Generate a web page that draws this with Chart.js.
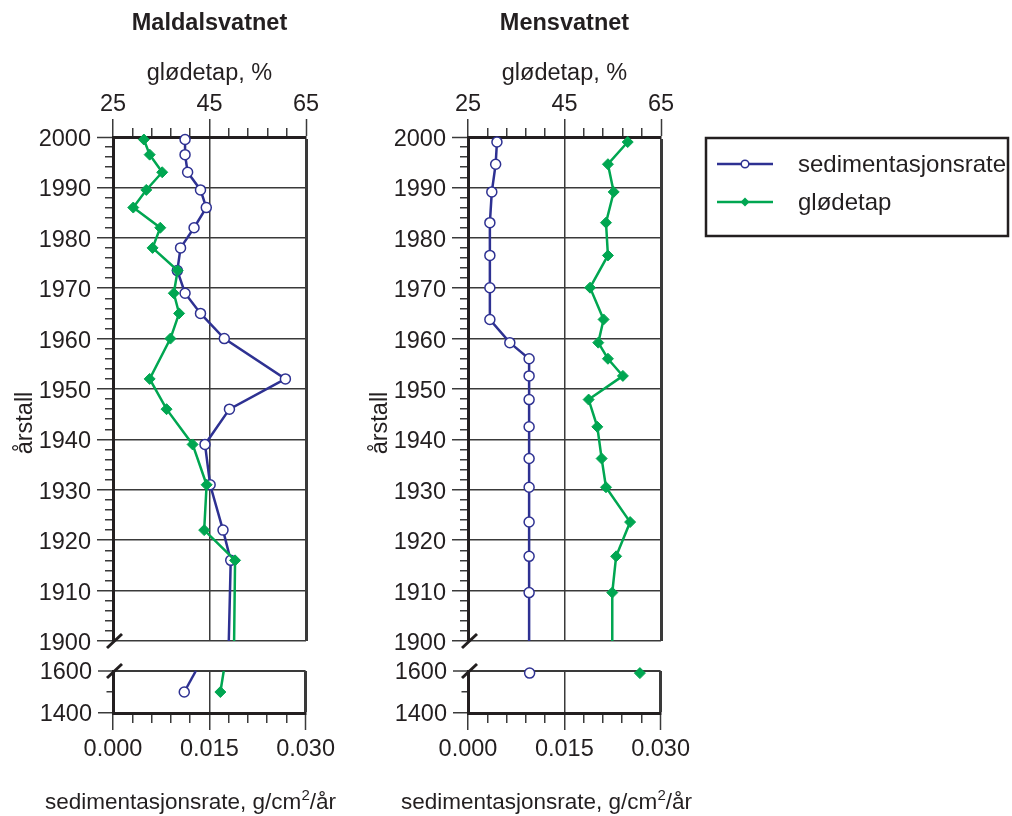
<!DOCTYPE html>
<html>
<head>
<meta charset="utf-8">
<script src="https://cdn.jsdelivr.net/npm/chart.js@4.4.1/dist/chart.umd.min.js"></script>
<style>
  html, body { margin: 0; padding: 0; background: #fff; }
  body { width: 1012px; height: 816px; position: relative; overflow: hidden;
         font-family: "Liberation Sans", Arial, sans-serif; color: #231f20; }
  canvas { position: absolute; }
  .ylab { position: absolute; width: 100px; height: 28px; line-height: 28px; text-align: center;
          font-size: 23.5px; transform: rotate(-90deg); white-space: nowrap; }
  .xlab { position: absolute; font-size: 22.5px; line-height: 26px; white-space: nowrap; }
  .xlab span { font-size: 15px; position: relative; top: -9px; }
</style>
</head>
<body>
<canvas id="mUp" width="340" height="667" style="left:0;top:0"></canvas>
<canvas id="mLo" width="340" height="166" style="left:0;top:650px"></canvas>
<canvas id="nUp" width="657" height="667" style="left:355px;top:0"></canvas>
<canvas id="nLo" width="340" height="166" style="left:355px;top:650px"></canvas>
<div class="ylab" style="left:-26px;top:409px">årstall</div>
<div class="ylab" style="left:329px;top:409px">årstall</div>
<div class="xlab" style="left:45px;top:789px">sedimentasjonsrate, g/cm<span>2</span>/år</div>
<div class="xlab" style="left:401px;top:789px">sedimentasjonsrate, g/cm<span>2</span>/år</div>
<script>
// Sediment core profiles for two lakes. Each lake is two stacked charts:
// 1900–2000 on top, and a short 1400–1600 strip below the axis break.

// ---- data ----
const MALDAL_YEARS = [1999.5, 1996.5, 1993, 1989.5, 1986, 1982, 1978, 1973.5, 1969, 1965, 1960, 1952, 1946, 1939, 1931, 1922, 1916];
const MALDAL_SED = [0.0112, 0.0112, 0.0116, 0.0136, 0.0145, 0.0126, 0.0105, 0.0100, 0.0112, 0.0136, 0.0173, 0.0268, 0.0181, 0.0143, 0.0151, 0.0171, 0.0183]; // g/cm²/år
const MALDAL_GLOD = [31.4, 32.6, 35.2, 31.9, 29.2, 34.8, 33.2, 38.4, 37.6, 38.7, 36.9, 32.6, 36.1, 41.5, 44.4, 43.9, 50.3]; // %
// where the lines leave the upper panel (1900) and come back in the lower one (1600)
const MALDAL_SED_1900 = 0.0180, MALDAL_GLOD_1900 = 50.1;
const MALDAL_SED_1600 = 0.0129, MALDAL_GLOD_1600 = 48.0;
const MALDAL_OLD_YEAR = 1500, MALDAL_OLD_SED = 0.0111, MALDAL_OLD_GLOD = 47.3;

const MENS_YEARS = [1999, 1994.6, 1989.1, 1983, 1976.5, 1970.1, 1963.8, 1959.2, 1956, 1952.6, 1947.9, 1942.5, 1936.2, 1930.5, 1923.6, 1916.8, 1909.6];
const MENS_SED = [0.0045, 0.0043, 0.0037, 0.0034, 0.0034, 0.0034, 0.0034, 0.0065, 0.0095, 0.0095, 0.0095, 0.0095, 0.0095, 0.0095, 0.0095, 0.0095, 0.0095];
const MENS_GLOD = [58.1, 54.0, 55.2, 53.6, 54.0, 50.3, 53.1, 52.0, 54.0, 57.1, 50.0, 51.8, 52.7, 53.6, 58.6, 55.7, 54.9];
const MENS_SED_1900 = 0.0095, MENS_GLOD_1900 = 54.9;
const MENS_OLD_YEAR = 1590, MENS_OLD_SED = 0.0096, MENS_OLD_GLOD = 60.7;

const GLOD_TICKS = [25, 45, 65];
const SED_TICKS = [0, 0.015, 0.03];

// ---- style ----
const INK = "#231f20";
const GRID = "#3a3a3a";
const BLUE = "#2e3192";
const GREEN = "#00a651";
const NONE = "rgba(0,0,0,0)";

Chart.defaults.font.family = '"Liberation Sans", Arial, sans-serif';
Chart.defaults.font.size = 23.5;
Chart.defaults.font.lineHeight = 1.2;
Chart.defaults.color = INK;

const near = (a, b) => Math.abs(a - b) < 1e-9;
const isGlodMajor = (v) => GLOD_TICKS.some((t) => near(t, v));
const isSedMajor = (v) => SED_TICKS.some((t) => near(t, v));
const tickVal = (c) => (c.tick ? c.tick.value : NaN);

// diagonal mark on the left axis where the year axis is broken
const breakMark = {
  id: "breakMark",
  afterDraw(chart, args, opts) {
    const { ctx, chartArea, scales } = chart;
    const x = chartArea.left + 1.5;
    const y = scales.y.getPixelForValue(opts.at);
    ctx.save();
    ctx.strokeStyle = INK;
    ctx.lineWidth = 3;
    ctx.beginPath();
    ctx.moveTo(x - 7.5, y + 7);
    ctx.lineTo(x + 7.5, y - 7);
    ctx.stroke();
    ctx.restore();
  },
};

// framed legend right of the Mensvatnet panel, line + marker per series
const boxLegend = {
  id: "boxLegend",
  afterDraw(chart) {
    const { ctx, chartArea } = chart;
    const left = chartArea.right + 45, top = chartArea.top + 1;
    ctx.save();
    ctx.lineWidth = 2.5;
    ctx.strokeStyle = INK;
    ctx.strokeRect(left, top, 302, 98);
    chart.data.datasets.forEach((ds, i) => {
      const y = top + 26 + i * 38;
      const mx = left + 39;
      ctx.strokeStyle = ds.borderColor;
      ctx.lineWidth = 2.5;
      ctx.beginPath();
      ctx.moveTo(left + 11, y);
      ctx.lineTo(left + 67, y);
      ctx.stroke();
      ctx.lineWidth = 1.5;
      if (ds.pointStyle === "circle") {
        ctx.fillStyle = "#fff";
        ctx.beginPath();
        ctx.arc(mx, y, 3.8, 0, Math.PI * 2);
        ctx.fill();
        ctx.stroke();
      } else {
        ctx.fillStyle = ds.borderColor;
        ctx.beginPath();
        ctx.moveTo(mx, y - 4.5);
        ctx.lineTo(mx + 4.5, y);
        ctx.lineTo(mx, y + 4.5);
        ctx.lineTo(mx - 4.5, y);
        ctx.closePath();
        ctx.fill();
      }
      ctx.fillStyle = INK;
      ctx.font = '24px "Liberation Sans", Arial, sans-serif';
      ctx.textBaseline = "middle";
      ctx.fillText(ds.label, left + 92, y + 1);
    });
    ctx.restore();
  },
};

function series(label, axis, points, hidden) {
  // hidden[i] true = point only carries the line to the break, no marker
  const blue = axis === "xS";
  return {
    label,
    data: points,
    xAxisID: axis,
    yAxisID: "y",
    borderColor: blue ? BLUE : GREEN,
    borderWidth: 2.5,
    pointStyle: blue ? "circle" : "rectRot",
    pointRadius: hidden.map((h) => (h ? 0 : blue ? 5 : 5.5)),
    pointBackgroundColor: blue ? "#fff" : GREEN,
    pointBorderColor: blue ? BLUE : GREEN,
    pointBorderWidth: blue ? 1.5 : 1,
    order: blue ? 2 : 1,
    clip: false,
    tension: 0,
  };
}

function upperData(years, sed, glod, sed1900, glod1900) {
  const sedPts = years.map((y, i) => ({ x: sed[i], y })).concat([{ x: sed1900, y: 1900 }]);
  const glodPts = years.map((y, i) => ({ x: glod[i], y })).concat([{ x: glod1900, y: 1900 }]);
  const hidden = years.map(() => false).concat([true]);
  return [
    series("sedimentasjonsrate", "xS", sedPts, hidden),
    series("glødetap", "xG", glodPts, hidden),
  ];
}

function lowerData(year, sed, glod, sed1600, glod1600) {
  const sedPts = [], glodPts = [], hidden = [];
  if (sed1600 != null) {
    sedPts.push({ x: sed1600, y: 1600 });
    glodPts.push({ x: glod1600, y: 1600 });
    hidden.push(true);
  }
  sedPts.push({ x: sed, y: year });
  glodPts.push({ x: glod, y: year });
  hidden.push(false);
  return [
    series("sedimentasjonsrate", "xS", sedPts, hidden),
    series("glødetap", "xG", glodPts, hidden),
  ];
}

function upperChart(id, title, datasets, padRight, extraPlugins) {
  return new Chart(document.getElementById(id), {
    type: "line",
    data: { datasets },
    options: {
      responsive: false,
      animation: false,
      events: [],
      layout: { padding: { left: 0, right: padRight, top: 0, bottom: 26 } },
      scales: {
        xG: {
          type: "linear",
          position: "top",
          min: 25,
          max: 65,
          afterFit: (s) => { s.height = 99.4; },
          ticks: {
            stepSize: 4,
            autoSkip: false,
            maxRotation: 0,
            padding: 0,
            callback: (v) => (isGlodMajor(v) ? String(v) : ""),
          },
          grid: {
            color: (c) => (isGlodMajor(tickVal(c)) ? GRID : NONE),
            lineWidth: (c) => (near(tickVal(c), 65) ? 3 : 1.5),
            tickColor: GRID,
            tickWidth: 1.5,
            tickLength: 18,
            tickBorderDash: (c) => (isGlodMajor(tickVal(c)) ? [] : [0, 9, 9, 100]),
          },
          border: { color: INK, width: 3 },
          title: { display: true, text: "glødetap, %", padding: { top: 21.8, bottom: 0 } },
        },
        xS: { type: "linear", display: false, min: 0, max: 0.03 },
        y: {
          type: "linear",
          position: "left",
          min: 1900,
          max: 2000,
          afterFit: (s) => { s.width = 113; },
          ticks: {
            stepSize: 2,
            autoSkip: false,
            padding: 6,
            labelOffset: 2.5,
            callback: (v) => (v % 10 === 0 ? String(v) : ""),
          },
          grid: {
            color: (c) => (tickVal(c) % 10 === 0 ? GRID : NONE),
            lineWidth: (c) => (tickVal(c) === 2000 ? 3 : 1.5),
            tickColor: GRID,
            tickWidth: 1.5,
            tickLength: 16,
            tickBorderDash: (c) => (tickVal(c) % 10 === 0 ? [] : [0, 8, 8, 100]),
          },
          border: { color: INK, width: 3 },
        },
      },
      plugins: {
        legend: { display: false },
        tooltip: { enabled: false },
        title: {
          display: true,
          text: title,
          fullSize: false,
          color: INK,
          font: { size: 23.5, weight: "bold" },
          padding: { top: 9.4, bottom: 0 },
        },
        breakMark: { at: 1900 },
      },
    },
    plugins: [breakMark].concat(extraPlugins || []),
  });
}

function lowerChart(id, datasets) {
  return new Chart(document.getElementById(id), {
    type: "line",
    data: { datasets },
    options: {
      responsive: false,
      animation: false,
      events: [],
      layout: { padding: { left: 0, right: 34, top: 21, bottom: 0 } },
      scales: {
        xG: { type: "linear", display: false, min: 25, max: 65 },
        xS: {
          type: "linear",
          position: "bottom",
          min: 0,
          max: 0.03,
          afterFit: (s) => { s.height = 103; },
          ticks: {
            stepSize: 0.003,
            autoSkip: false,
            maxRotation: 0,
            padding: 5,
            callback: (v) => (isSedMajor(v) ? v.toFixed(3) : ""),
          },
          grid: {
            color: (c) => (isSedMajor(tickVal(c)) ? GRID : NONE),
            lineWidth: (c) => (near(tickVal(c), 0.03) ? 3 : 1.5),
            tickColor: GRID,
            tickWidth: 1.5,
            tickLength: 17,
            tickBorderDash: (c) => (isSedMajor(tickVal(c)) ? [] : [8, 100]),
          },
          border: { color: INK, width: 3 },
        },
        y: {
          type: "linear",
          position: "left",
          min: 1400,
          max: 1600,
          afterFit: (s) => { s.width = 113; },
          ticks: {
            stepSize: 100,
            autoSkip: false,
            padding: 6,
            labelOffset: 2,
            callback: (v) => (v === 1500 ? "" : String(v)),
          },
          grid: {
            color: (c) => (tickVal(c) === 1500 ? NONE : GRID),
            lineWidth: (c) => (tickVal(c) === 1600 ? 2 : 1.5),
            tickColor: GRID,
            tickWidth: 1.5,
            tickLength: 15,
            tickBorderDash: (c) => (tickVal(c) === 1500 ? [0, 8.5, 6.5, 100] : []),
          },
          border: { color: INK, width: 3 },
        },
      },
      plugins: {
        legend: { display: false },
        tooltip: { enabled: false },
        breakMark: { at: 1600 },
      },
    },
    plugins: [breakMark],
  });
}

upperChart("mUp", "Maldalsvatnet",
  upperData(MALDAL_YEARS, MALDAL_SED, MALDAL_GLOD, MALDAL_SED_1900, MALDAL_GLOD_1900), 34);
lowerChart("mLo",
  lowerData(MALDAL_OLD_YEAR, MALDAL_OLD_SED, MALDAL_OLD_GLOD, MALDAL_SED_1600, MALDAL_GLOD_1600));

upperChart("nUp", "Mensvatnet",
  upperData(MENS_YEARS, MENS_SED, MENS_GLOD, MENS_SED_1900, MENS_GLOD_1900), 351, [boxLegend]);
lowerChart("nLo", lowerData(MENS_OLD_YEAR, MENS_OLD_SED, MENS_OLD_GLOD, null, null));
</script>
</body>
</html>
